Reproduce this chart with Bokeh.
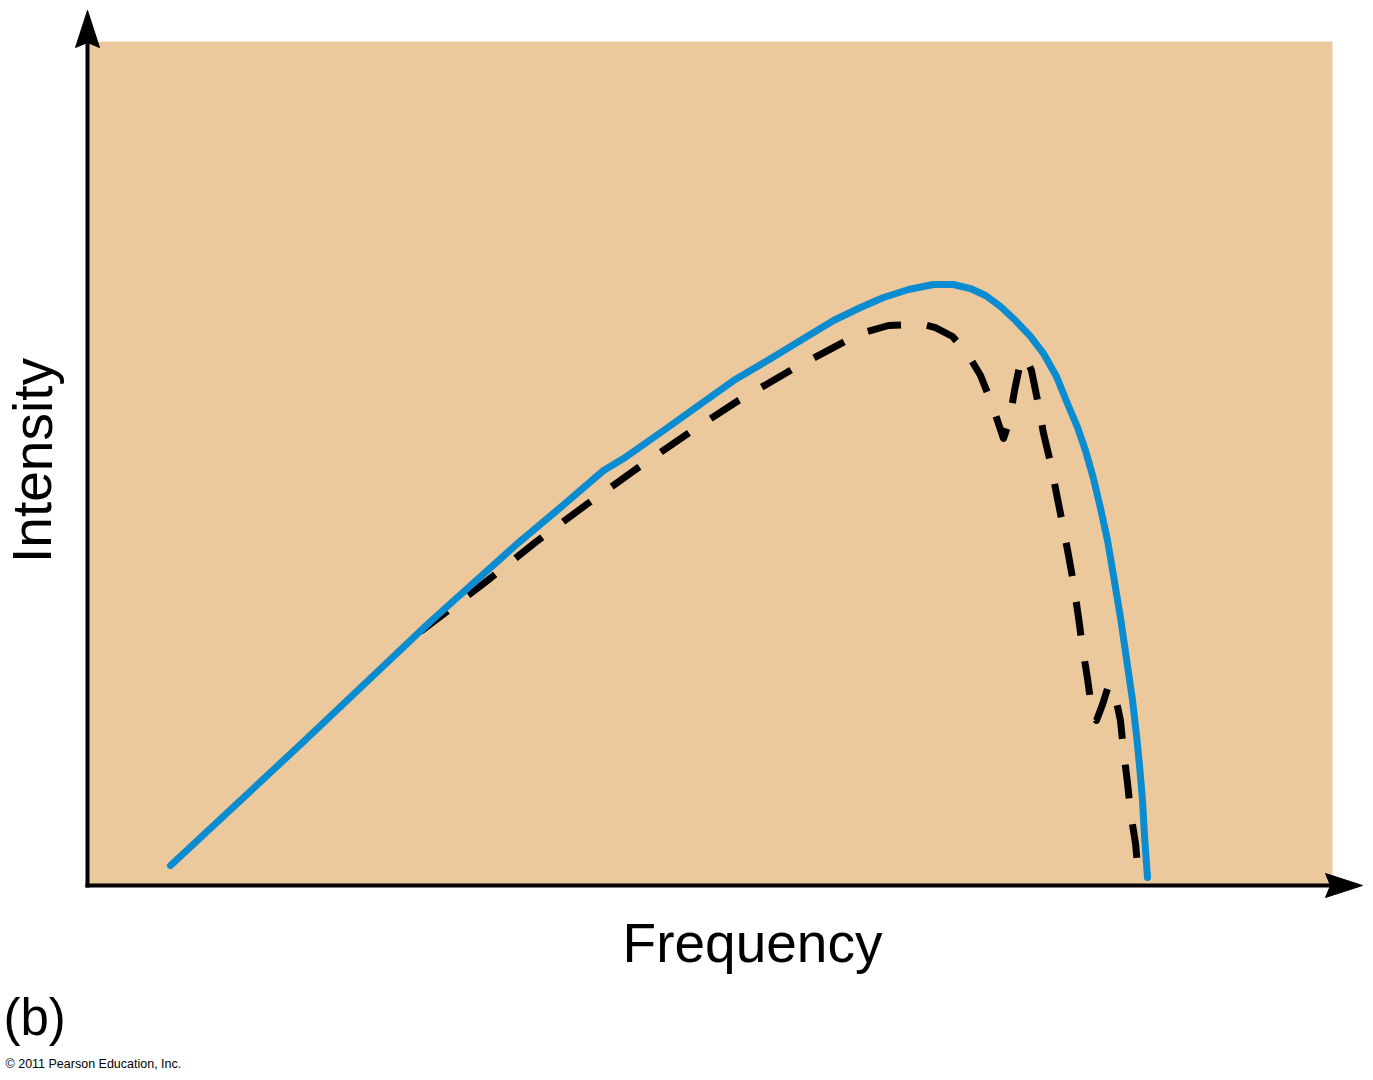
from bokeh.plotting import figure
from bokeh.models import Range1d
from bokeh.core.properties import value
from bokeh.embed import file_html
from bokeh.resources import INLINE

# ---------------- data (frequency / intensity, arbitrary units 0-100) ----------------
blackbody_freq = [6.67, 17.11, 27.55, 34.54, 37.99, 41.45, 43.05, 46.27, 51.89, 54.62,
                  59.92, 62.09, 63.94, 65.94, 67.95, 69.56, 70.92, 72.13, 73.33, 74.54,
                  75.74, 76.79, 77.83, 78.71, 79.52, 80.16, 80.80, 81.37, 81.93, 82.41,
                  82.97, 83.45, 83.94, 84.26, 84.50, 84.74, 84.90, 85.14]
blackbody_int = [2.37, 16.71, 31.28, 40.52, 44.79, 49.17, 50.59, 53.91, 59.83, 62.20,
                 66.94, 68.48, 69.67, 70.62, 71.21, 71.21, 70.73, 69.91, 68.60, 66.94,
                 65.05, 63.03, 60.31, 57.11, 54.27, 51.54, 48.22, 44.67, 40.88, 36.73,
                 31.75, 26.90, 21.92, 17.77, 14.22, 10.07, 5.92, 0.95]

star_freq = [26.75, 32.13, 36.06, 40.08, 44.26, 48.35, 52.29, 56.87, 61.29, 62.65,
             64.34, 66.10, 67.15, 68.11, 69.48, 70.68, 71.73, 72.69, 73.57, 74.06,
             74.46, 74.86, 75.34, 75.82, 76.31, 76.79, 77.35, 77.83, 78.31, 78.80,
             79.20, 79.60, 79.92, 80.32, 80.64, 81.04, 81.53, 82.01, 82.49, 82.97,
             83.21, 83.53, 83.78, 84.18, 84.42]
star_int = [30.09, 36.14, 40.76, 45.14, 49.53, 53.67, 57.46, 61.37, 64.81, 65.64,
            66.35, 66.47, 66.47, 66.11, 65.05, 63.03, 60.43, 56.87, 52.96, 55.09,
            58.65, 61.49, 62.68, 61.02, 57.46, 53.55, 50.12, 46.45, 42.89, 39.10,
            35.78, 31.75, 28.20, 24.53, 21.09, 19.55, 21.45, 23.70, 22.87, 19.55,
            16.00, 12.20, 8.65, 4.98, 0.95]

x_label = "Frequency"
y_label = "Intensity"
panel_label = "(b)"
credit = "\u00a9 2011 Pearson Education, Inc."

X_MAX = 100.0
Y_MAX = 100.0

# ---------------- layout ----------------
W, H = 1372, 1078
PAGE = 0
X0_PX, SX = 87.0, 12.45     # page px of frequency 0, px per unit
Y0_PX, SY = 885.0, 8.44     # page px of intensity 0, px per unit


def px_x(px):
    return (px - X0_PX) / SX


def px_y(py):
    return (Y0_PX - py) / SY


FONT = "Liberation Sans"

p = figure(width=W, height=H, output_backend="svg", toolbar_location=None,
           x_range=Range1d(px_x(PAGE), px_x(PAGE + W)),
           y_range=Range1d(px_y(PAGE + H), px_y(PAGE)),
           x_axis_type=None, y_axis_type=None, min_border=0,
           outline_line_color=None, background_fill_color="white",
           border_fill_color="white")

# plot panel
p.quad(left=0, right=X_MAX, bottom=0, top=Y_MAX, fill_color="#EBC99D", line_color=None)

# curves
p.line(star_freq, star_int, line_color="black", line_width=7, line_dash="34 26",
       line_cap="butt", line_join="round")
p.line(blackbody_freq, blackbody_int, line_color="#0B8BD0", line_width=7,
       line_cap="round", line_join="round")

# axes with arrowheads
HEAD_LEN, HEAD_HALF, NOTCH = 37, 12, 5
Y_TIP_PX, X_TIP_PX = 10, 1362
p.line([0, 0], [px_y(887), px_y(Y_TIP_PX + HEAD_LEN - NOTCH)], line_color="black", line_width=4)
p.line([px_x(85), px_x(X_TIP_PX - HEAD_LEN + NOTCH)], [0, 0], line_color="black", line_width=4)
p.patch([0, px_x(X0_PX - HEAD_HALF), 0, px_x(X0_PX + HEAD_HALF)],
        [px_y(Y_TIP_PX), px_y(Y_TIP_PX + HEAD_LEN), px_y(Y_TIP_PX + HEAD_LEN - NOTCH),
         px_y(Y_TIP_PX + HEAD_LEN)], fill_color="black", line_color="black", line_width=1)
p.patch([px_x(X_TIP_PX), px_x(X_TIP_PX - HEAD_LEN), px_x(X_TIP_PX - HEAD_LEN + NOTCH),
         px_x(X_TIP_PX - HEAD_LEN)],
        [0, px_y(Y0_PX - HEAD_HALF), 0, px_y(Y0_PX + HEAD_HALF)],
        fill_color="black", line_color="black", line_width=1)

# texts (anchors compensated for the renderer's baseline offset)
p.text(x=[px_x(752)], y=[px_y(942)], text=[x_label], text_font=value(FONT),
       text_font_size="55px", text_align="center", text_baseline="alphabetic",
       text_color="black")
p.text(x=[px_x(32)], y=[px_y(460)], text=[y_label], text_font=value(FONT),
       text_font_size="55px", text_align="center", text_baseline="alphabetic",
       angle=1.5707963, text_color="black")
p.text(x=[px_x(3)], y=[px_y(1017)], text=[panel_label], text_font=value(FONT),
       text_font_size="51px", text_align="left", text_baseline="alphabetic",
       text_color="black")
p.text(x=[px_x(5)], y=[px_y(1063)], text=[credit], text_font=value(FONT),
       text_font_size="12.5px", text_align="left", text_baseline="alphabetic",
       text_color="black")

open("out.html", "w").write(file_html(p, INLINE))
